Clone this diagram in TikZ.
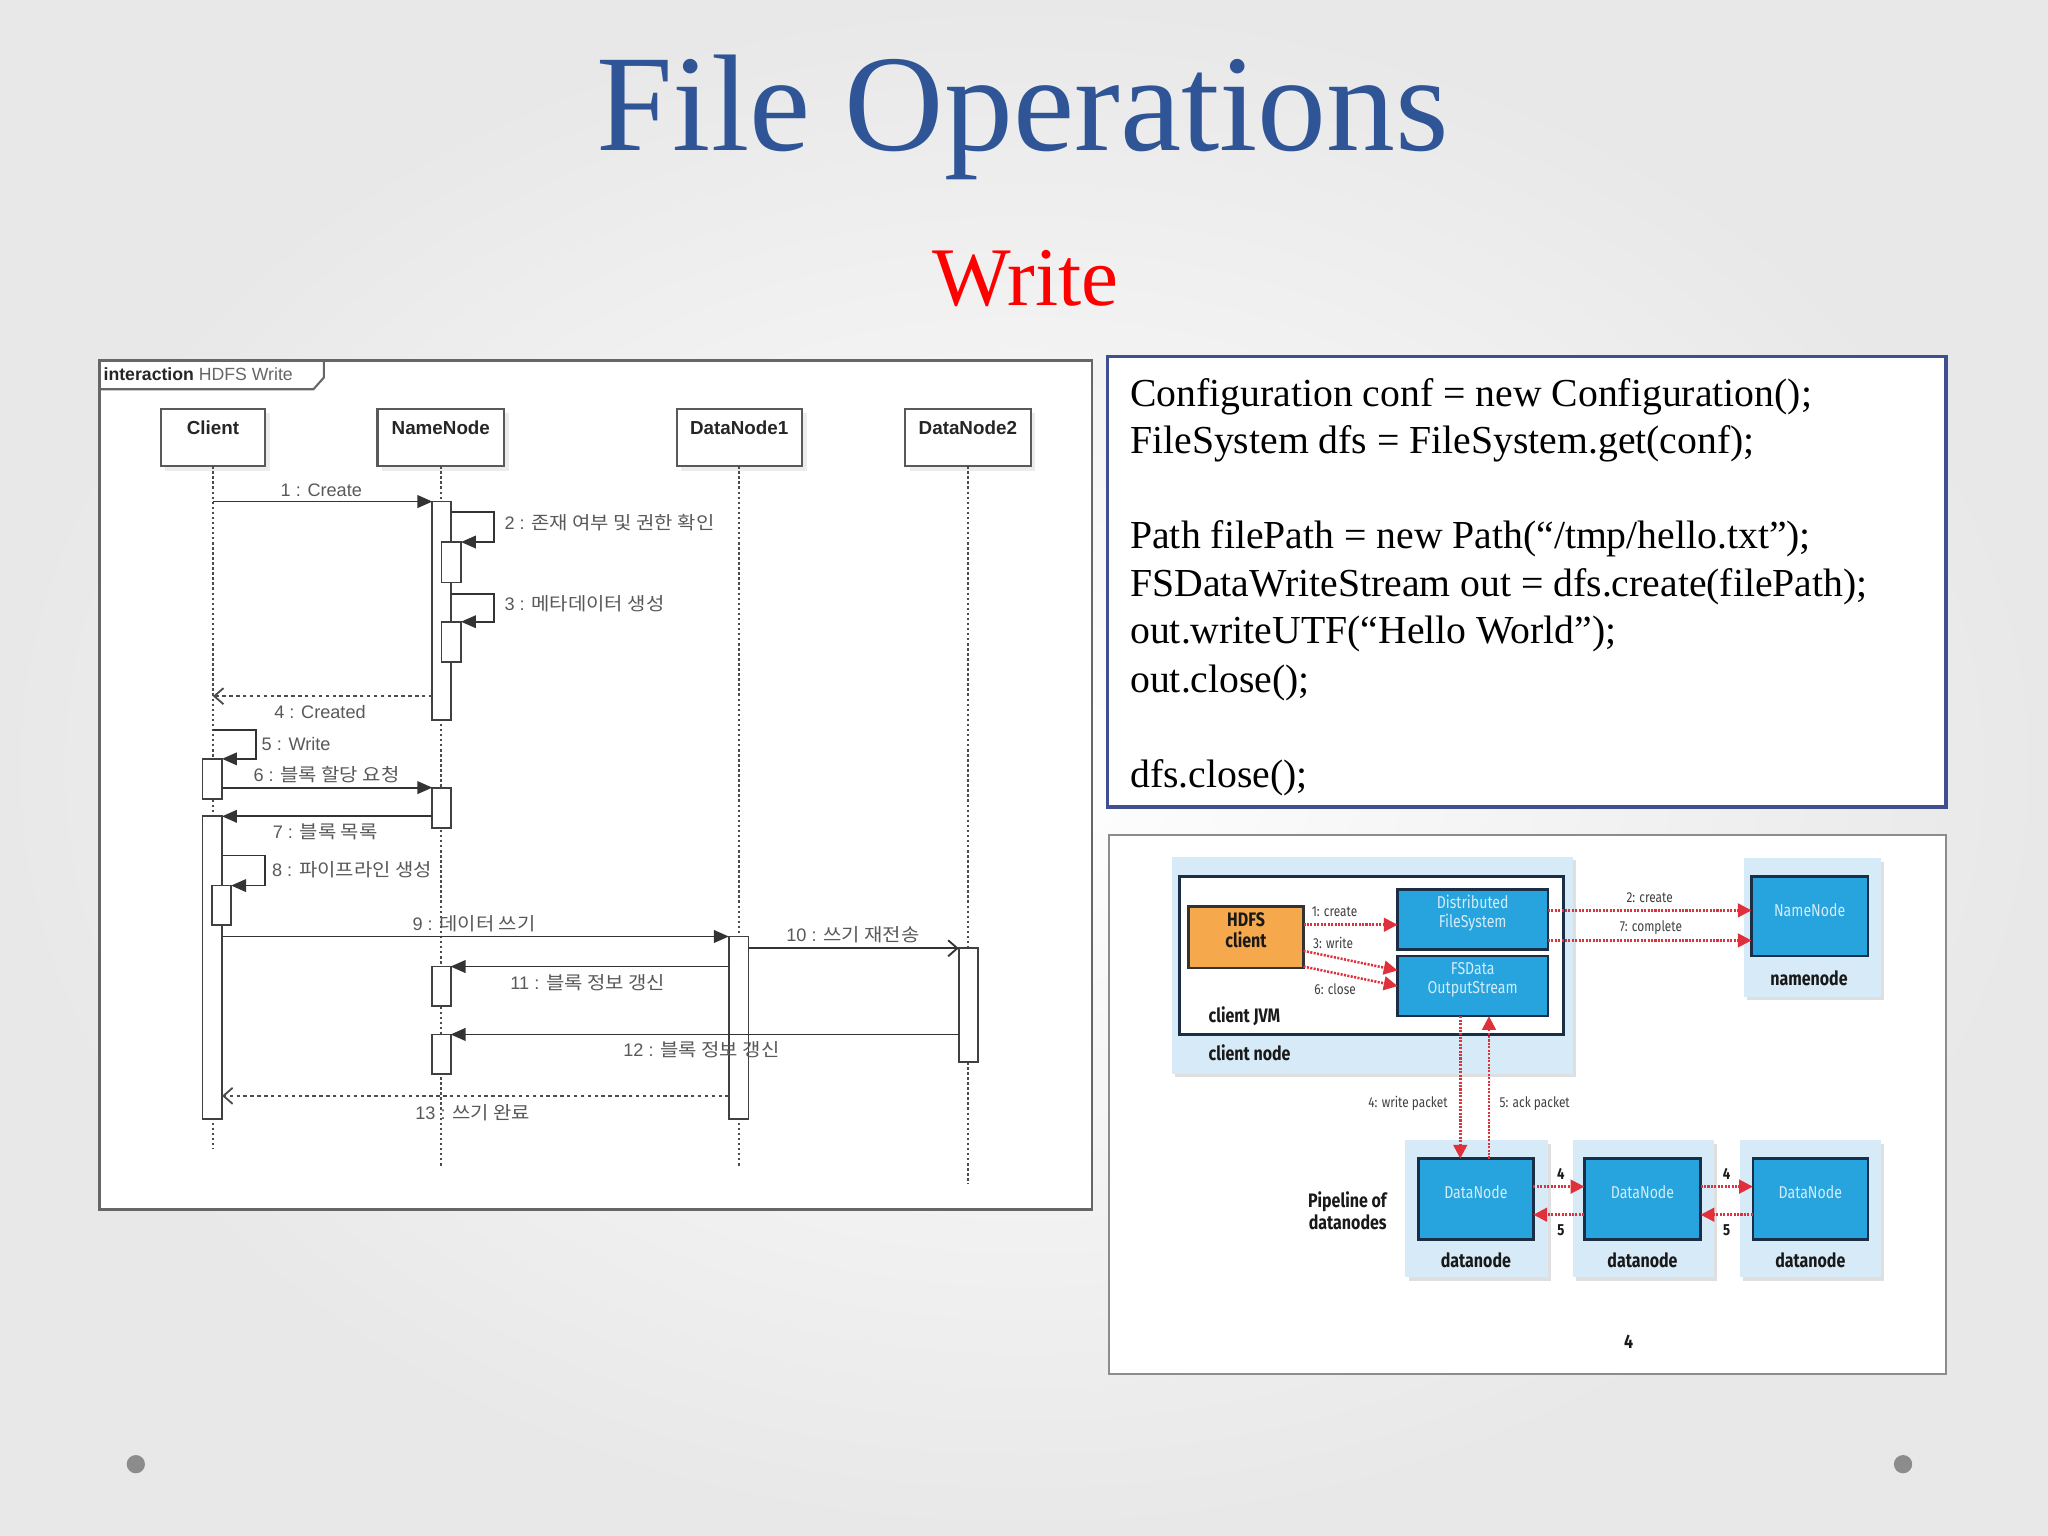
\documentclass[tikz,border=0pt]{standalone}
\usepackage{fontspec}
\setmainfont{Liberation Serif}
\newfontfamily\kr[FakeStretch=1.1]{Noto Sans CJK KR}
\newfontfamily\arial{Liberation Sans}
\newfontfamily\hd[FakeStretch=0.82]{Fira Sans}
\usetikzlibrary{arrows.meta,fit,shadows,calc}
\definecolor{titleblue}{HTML}{2F5597}
\definecolor{codeborder}{HTML}{3F4F8F}
\definecolor{lblue}{HTML}{D6EBF7}
\definecolor{bblue}{HTML}{27A3DD}
\definecolor{navy}{HTML}{1C2E45}
\definecolor{orng}{HTML}{F6A84C}
\definecolor{hred}{HTML}{E0303C}
\definecolor{paletxt}{HTML}{D2ECF9}
\definecolor{bulletgray}{HTML}{8C8C8C}
\tikzset{
  sbox/.style={inner sep=0pt, outer sep=0pt},
  titlef/.style={font=\fontsize{60}{60}\selectfont, text=titleblue, anchor=base, inner sep=0pt},
  subf/.style={font=\fontsize{36.3}{36}\selectfont, text=red, anchor=base, inner sep=0pt},
  code/.style={anchor=base west, inner sep=0pt, font=\fontsize{17.3}{20}\selectfont, text=black},
  head/.style={sbox, draw=black!65, fill=white, line width=0.9pt, drop shadow={shadow xshift=2pt, shadow yshift=-2pt, opacity=0.15}},
  headtxt/.style={font=\arial\bfseries\fontsize{8.2}{9}\selectfont, text=black!85, inner sep=0pt, anchor=base},
  life/.style={draw=black!70, line width=0.8pt, dash pattern=on 1.1pt off 1.1pt},
  act/.style={sbox, draw=black!75, fill=white, line width=0.8pt},
  msg/.style={draw=black!80, line width=0.8pt, -{Triangle[length=6.5pt,width=5.5pt]}},
  ret/.style={draw=black!70, line width=0.8pt, dash pattern=on 1.5pt off 1.5pt, -{Straight Barb[length=4pt,width=7pt]}},
  async/.style={draw=black!80, line width=0.8pt, -{Straight Barb[length=4pt,width=7pt]}},
  slbl/.style={font=\arial\fontsize{7.9}{9}\selectfont, text=black!65, inner sep=0pt},
  lbox/.style={sbox, fill=lblue, drop shadow={shadow xshift=1.5pt, shadow yshift=-1.5pt, opacity=0.25}},
  bluebox/.style={sbox, fill=bblue, draw=navy, line width=1.1pt, align=center, text=paletxt, font=\hd\fontsize{7.5}{8.4}\selectfont},
  hbold/.style={font=\hd\bfseries\fontsize{8.5}{9.6}\selectfont, text=black!90, inner sep=0pt},
  elbl/.style={font=\hd\fontsize{6.3}{7}\selectfont, text=black!75, inner sep=0pt},
  rarr/.style={draw=hred, line width=1.1pt, dash pattern=on 0.9pt off 0.6pt, -{Triangle[length=6pt,width=6pt]}},
}
\begin{document}
\begin{tikzpicture}[x=0.02cm,y=-0.02cm]
\useasboundingbox (0,0) rectangle (1568,1176);
\fill[inner color=white, outer color=black!9] (0,0) rectangle (1568,1176);

% titles
\node[titlef] (title) at (783,115) {File Operations};
\node[subf] (sub) at (785,234) {Write};

% code box
\node[sbox, fit={(848,273) (1490,618)}, draw=codeborder, line width=1.6pt, fill=white] (codebox) {};
\node[code] (c1) at (865,311) {Configuration conf = new Configuration();};
\node[code] (c2) at (865,347.5) {FileSystem dfs = FileSystem.get(conf);};
\node[code] (c3) at (865,420) {Path filePath = new Path(“/tmp/hello.txt”);};
\node[code] (c4) at (865,456.5) {FSDataWriteStream out = dfs.create(filePath);};
\node[code] (c5) at (865,493) {out.writeUTF(“Hello World”);};
\node[code] (c6) at (865,530) {out.close();};
\node[code] (c7) at (865,603) {dfs.close();};

% ---------------- sequence diagram ----------------
\node[sbox, fit={(76,276) (836,926)}, draw=black!60, line width=1.1pt, fill=white] (sframe) {};
\coordinate (tabA) at (76,298);
\coordinate (tabB) at (240,298);
\coordinate (tabC) at (248,289);
\coordinate (tabD) at (248,276);
\draw[black!60, line width=0.9pt] (tabA) -- (tabB) -- (tabC) -- (tabD);
\node[anchor=base west, inner sep=0pt, font=\arial\fontsize{7.7}{9}\selectfont, text=black!85] (tabtxt) at (79,291) {\bfseries interaction \mdseries\color{black!60}HDFS Write};

\node[head, fit={(123,313) (203,357)}] (ch) {};
\node[head, fit={(289,313) (386,357)}] (nh) {};
\node[head, fit={(518,313) (614,357)}] (d1h) {};
\node[head, fit={(693,313) (789,357)}] (d2h) {};
\node[headtxt] (chl) at (163,333) {Client};
\node[headtxt] (nhl) at (337.5,333) {NameNode};
\node[headtxt] (d1hl) at (566,333) {DataNode1};
\node[headtxt] (d2hl) at (741,333) {DataNode2};

\coordinate (clend) at (163,880);
\coordinate (nnend) at (337.5,893);
\coordinate (d1end) at (566,893);
\coordinate (d2end) at (741,906);
\draw[life] (ch.south) -- (clend);
\draw[life] (nh.south) -- (nnend);
\draw[life] (d1h.south) -- (d1end);
\draw[life] (d2h.south) -- (d2end);

% activations
\node[act, fit={(331,384) (345,551)}] (nA1) {};
\node[act, fit={(338,415) (353,446)}] (nA2) {};
\node[act, fit={(338,476) (353,507)}] (nA3) {};
\node[act, fit={(155,581) (170,612)}] (cA1) {};
\node[act, fit={(331,603) (345,634)}] (nA4) {};
\node[act, fit={(155,625) (170,857)}] (cA2) {};
\node[act, fit={(162,678) (177,708)}] (cA3) {};
\node[act, fit={(558,717) (573,857)}] (d1A) {};
\node[act, fit={(734,726) (749,813)}] (d2A) {};
\node[act, fit={(331,740) (345,770)}] (nA5) {};
\node[act, fit={(331,792) (345,822)}] (nA6) {};

% messages
\draw[msg] (ch.south |- nA1.north west) -- (nA1.north west);
\node[slbl] (l1) at (246,375) {1 : Create};

\coordinate (s2r) at (378,392);
\draw[msg] (nA1.east |- s2r) -- (s2r) -- (s2r |- nA2.north) -- (nA2.north east);
\node[slbl, anchor=west] (l2) at (386,400) {2 : {\kr 존재 여부 및 권한 확인}};

\coordinate (s3r) at (378,455);
\draw[msg] (nA1.east |- s3r) -- (s3r) -- (s3r |- nA3.north) -- (nA3.north east);
\node[slbl, anchor=west] (l3) at (386,462) {3 : {\kr 메타데이터 생성}};

\coordinate (m4y) at (250,533);
\draw[ret] (nA1.west |- m4y) -- (ch.south |- m4y);
\node[slbl] (l4) at (245,545) {4 : Created};

\coordinate (s5r) at (196,559);
\draw[msg] (ch.south |- s5r) -- (s5r) -- (s5r |- cA1.north) -- (cA1.north east);
\node[slbl, anchor=west] (l5) at (200,570) {5 : Write};

\draw[msg] (cA1.east |- nA4.north) -- (nA4.north west);
\node[slbl] (l6) at (250,593) {6 : {\kr 블록 할당 요청}};

\draw[msg] (nA4.west |- cA2.north) -- (cA2.north east);
\node[slbl] (l7) at (249,637) {7 : {\kr 블록 목록}};

\coordinate (s8r) at (203,655);
\draw[msg] (cA2.east |- s8r) -- (s8r) -- (s8r |- cA3.north) -- (cA3.north east);
\node[slbl, anchor=west] (l8) at (208,666) {8 : {\kr 파이프라인 생성}};

\draw[msg] (cA2.east |- d1A.north) -- (d1A.north west);
\node[slbl] (l9) at (363,707) {9 : {\kr 데이터 쓰기}};

\draw[async] (d1A.east |- d2A.north) -- (d2A.north west);
\node[slbl] (l10) at (653,716) {10 : {\kr 쓰기 재전송}};

\draw[msg] (d1A.west |- nA5.north) -- (nA5.north east);
\node[slbl] (l11) at (450,752) {11 : {\kr 블록 정보 갱신}};

\draw[msg] (d2A.west |- nA6.north) -- (nA6.north east);
\node[slbl] (l12) at (537,804) {12 : {\kr 블록 정보 갱신}};

\coordinate (m13y) at (300,839);
\draw[ret] (d1A.west |- m13y) -- (cA2.east |- m13y);
\node[slbl] (l13) at (362,852) {13 : {\kr 쓰기 완료}};

% ---------------- HDFS write diagram ----------------
\node[sbox, fit={(849,639) (1490,1052)}, draw=black!45, line width=0.8pt, fill=white] (hframe) {};
\node[lbox, fit={(897,656) (1204,822)}] (cnode) {};
\node[sbox, fit={(903,671) (1197,792)}, fill=white, draw=navy, line width=1.1pt] (jvm) {};
\node[sbox, fit={(910,694) (998,741)}, fill=orng, draw=black!80, line width=1.1pt, align=center, font=\hd\bfseries\fontsize{8.5}{9.4}\selectfont, text=black!90] (hc) {HDFS\\client};
\node[bluebox, fit={(1070,681) (1185,727)}] (dfs) {Distributed\\FileSystem};
\node[bluebox, fit={(1070,732) (1185,778)}] (fsd) {FSData\\OutputStream};
\node[hbold, anchor=base west] (jvml) at (925,783) {client JVM};
\node[hbold, anchor=base west] (cnl) at (925,812) {client node};

\node[lbox, fit={(1335,657) (1440,763)}] (nno) {};
\node[bluebox, fit={(1341,671) (1430,732)}] (nni) {NameNode};
\node[hbold] (nnl) at (1385,749) {namenode};

\node[lbox, fit={(1076,873) (1185,978)}] (dno1) {};
\node[lbox, fit={(1204,873) (1312,978)}] (dno2) {};
\node[lbox, fit={(1332,873) (1440,978)}] (dno3) {};
\node[bluebox, fit={(1086,887) (1174,949)}] (dni1) {DataNode};
\node[bluebox, fit={(1213,887) (1302,949)}] (dni2) {DataNode};
\node[bluebox, fit={(1342,887) (1430,949)}] (dni3) {DataNode};
\node[hbold] (dnl1) at (1130,965) {datanode};
\node[hbold] (dnl2) at (1257.5,965) {datanode};
\node[hbold] (dnl3) at (1386,965) {datanode};
\node[hbold, anchor=east, align=right] (pipe) at (1062,927) {Pipeline of\\datanodes};
\node[hbold] (pnum) at (1247,1027) {4};

% client-side arrows
\coordinate (a1y) at (1000,708);
\coordinate (a3s) at (1000,728);
\coordinate (a3e) at (1000,743);
\coordinate (a6s) at (1000,740);
\coordinate (a6e) at (1000,755);
\draw[rarr] (hc.east |- a1y) -- (dfs.west |- a1y);
\draw[rarr] (hc.east |- a3s) -- (fsd.west |- a3e);
\draw[rarr] (hc.east |- a6s) -- (fsd.west |- a6e);
\node[elbl, anchor=west] (e1) at (1004,698) {1: create};
\node[elbl, anchor=west] (e3) at (1005,722) {3: write};
\node[elbl, anchor=west] (e6) at (1006,757) {6: close};

\coordinate (a2y) at (1250,697);
\coordinate (a7y) at (1250,720);
\draw[rarr] (dfs.east |- a2y) -- (nni.west |- a2y);
\draw[rarr] (dfs.east |- a7y) -- (nni.west |- a7y);
\node[elbl] (e2) at (1263,687) {2: create};
\node[elbl] (e7) at (1264,710) {7: complete};

\coordinate (wx) at (1118,830);
\coordinate (ax) at (1140,830);
\draw[rarr] (wx |- fsd.south) -- (wx |- dni1.north);
\draw[rarr] (ax |- dni1.north) -- (ax |- fsd.south);
\node[elbl] (e4) at (1078,845) {4: write packet};
\node[elbl] (e5) at (1175,845) {5: ack packet};

\coordinate (p4y) at (1200,908.5);
\coordinate (p5y) at (1200,930);
\draw[rarr] (dni1.east |- p4y) -- (dni2.west |- p4y);
\draw[rarr] (dni2.west |- p5y) -- (dni1.east |- p5y);
\draw[rarr] (dni2.east |- p4y) -- (dni3.west |- p4y);
\draw[rarr] (dni3.west |- p5y) -- (dni2.east |- p5y);
\node[hbold, font=\hd\bfseries\fontsize{7}{8}\selectfont] (n4a) at (1195,899) {4};
\node[hbold, font=\hd\bfseries\fontsize{7}{8}\selectfont] (n5a) at (1195,942) {5};
\node[hbold, font=\hd\bfseries\fontsize{7}{8}\selectfont] (n4b) at (1322,899) {4};
\node[hbold, font=\hd\bfseries\fontsize{7}{8}\selectfont] (n5b) at (1322,942) {5};

% slide bullets
\fill[bulletgray] (104,1121) circle (7);
\fill[bulletgray] (1457,1121) circle (7);
\end{tikzpicture}
\end{document}
